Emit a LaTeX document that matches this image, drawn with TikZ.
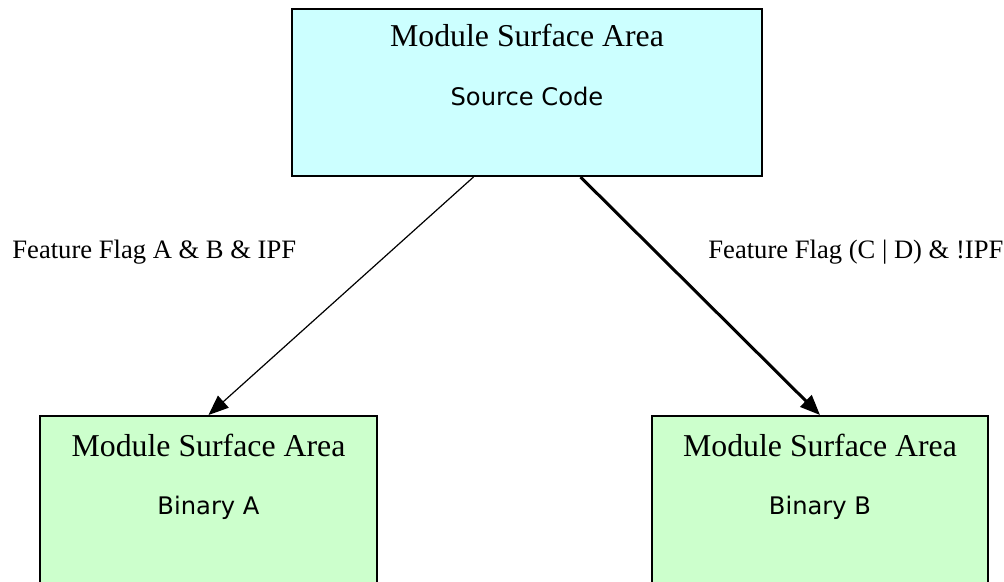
\documentclass[tikz,border=0pt]{standalone}
\usepackage{fontspec}
\setmainfont{Liberation Serif}
\newfontfamily\subfont{DejaVu Sans}
\usetikzlibrary{arrows.meta, positioning}
\definecolor{srccyan}{RGB}{204,255,255}
\definecolor{bingreen}{RGB}{204,255,204}

\begin{document}
\begin{tikzpicture}[x=0.5pt, y=-0.5pt,
    modbox/.style={draw, line width=1pt, inner sep=0pt},
    titletext/.style={anchor=base, inner sep=0pt, font=\fontsize{15.9}{19}\selectfont},
    subtext/.style={anchor=base, inner sep=0pt, font=\subfont\fontsize{12.1}{14.5}\selectfont},
    flagtext/.style={anchor=base west, inner sep=0pt, font=\fontsize{13.3}{16}\selectfont},
    flagarrow/.style={-{Triangle[length=10pt, width=8pt]}}]
    \useasboundingbox (0,0) rectangle (1004,582);
    \clip (0,0) rectangle (1004,582);

    % Source box
    \node[modbox, fill=srccyan, minimum width=235pt, minimum height=83.5pt] (src) at (527,92.5) {};
    \node[titletext] (srctitle) at ([yshift=-19.5pt]src.north) {Module Surface Area};
    \node[subtext] (srcsub) at ([yshift=-49pt]src.north) {Source Code};

    % Binary boxes
    \node[modbox, fill=bingreen, minimum width=168.5pt, minimum height=90pt] (bina) at (208.5,506) {};
    \node[titletext] (binatitle) at ([yshift=-20.5pt]bina.north) {Module Surface Area};
    \node[subtext] (binasub) at ([yshift=-49.5pt]bina.north) {Binary A};

    \node[modbox, fill=bingreen, minimum width=168pt, minimum height=90pt] (binb) at (820,506) {};
    \node[titletext] (binbtitle) at ([yshift=-20.5pt]binb.north) {Module Surface Area};
    \node[subtext] (binbsub) at ([yshift=-49.5pt]binb.north) {Binary B};

    % Flags
    \node[flagtext] (flaga) at (12,259) {Feature Flag A \& B \& IPF};
    \node[flagtext] (flagb) at (708,259) {Feature Flag (C | D) \& !IPF};

    % Arrows
    \draw[flagarrow, line width=0.6pt] ([xshift=-26.75pt]src.south) -- (bina.north);
    \draw[flagarrow, line width=1.5pt] ([xshift=26.75pt]src.south) -- (binb.north);
\end{tikzpicture}
\end{document}
